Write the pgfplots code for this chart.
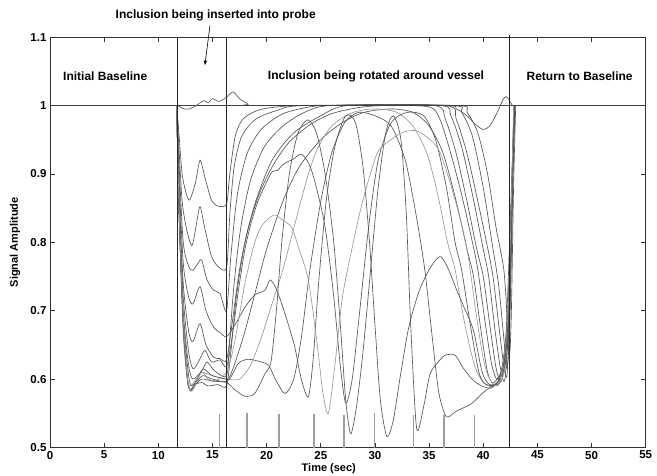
\documentclass[border=0pt]{standalone}
\usepackage{pgfplots}
\pgfplotsset{compat=1.18}
\usepackage{fontspec}
\setmainfont{Liberation Sans}
\usetikzlibrary{arrows.meta}

\definecolor{dk}{gray}{0.33}
\definecolor{lt}{gray}{0.6}
\definecolor{barc}{gray}{0.62}

\pgfplotsset{
  curve/.style={smooth, tension=0.45, color=dk, line width=0.65pt, mark=none},
  lcurve/.style={smooth, tension=0.45, color=lt, line width=0.65pt, mark=none},
}

\begin{document}
\begin{tikzpicture}
\begin{axis}[
  name=ax,
  scale only axis,
  width=595.7pt, height=410.4pt,
  xmin=0, xmax=55, ymin=0.5, ymax=1.1,
  xtick={0,5,10,15,20,25,30,35,40,45,50,55},
  xticklabels={0,5,10,15,20,25,30,35,40,45,50,55},
  ytick={0.5,0.6,0.7,0.8,0.9,1,1.1},
  yticklabels={0.5,0.6,0.7,0.8,0.9,1,1.1},
  /pgf/number format/assume math mode=true,
  tick align=inside,
  major tick length=5pt,
  tick style={black!80, line width=0.6pt},
  axis line style={black!80, line width=0.8pt},
  ticklabel style={font=\bfseries\fontsize{11.5}{13}\selectfont},
  xlabel={Time (sec)},
  ylabel={Signal Amplitude},
  xlabel style={font=\bfseries\fontsize{11}{13}\selectfont, at={(axis description cs:0.468,-0.0504)}, anchor=center},
  ylabel style={font=\bfseries\fontsize{11}{13}\selectfont, at={(axis description cs:-0.0588,0.5)}, anchor=center},
  clip=false,
]

% top curve
\addplot[curve] coordinates {(11.7,1)(12.0,0.998)(12.4,0.995)(12.9,0.995)(13.5,1.0)(14.2,1.007)(14.6,1.004)(15.0,1.01)(15.6,1.006)(16.3,1.012)(16.9,1.02)(17.5,1.01)(18.3,1.002)(19,1)(36,1)(37.5,0.995)(38.5,0.985)(39.3,0.972)(40.0,0.965)(40.6,0.97)(41.3,0.99)(41.8,1.008)(42.1,1.013)(42.4,1.008)(42.7,1)(43,1)};

% plateau curves
\addplot[curve] coordinates {(11.7,1)(11.9,0.96)(12.2,0.9)(12.6,0.87)(12.9,0.862)(13.4,0.885)(13.85,0.92)(14.3,0.895)(14.9,0.862)(15.5,0.853)(16.3,0.856)(16.6,0.9)(17.1,0.955)(17.8,0.98)(19.2,0.993)(21,0.998)(24,1)(37.5,1)(38.5,0.99)(39.5,0.96)(40.4,0.9)(41.2,0.82)(41.9,0.76)(42.25,0.68)(42.45,0.64)(42.6,0.7)(42.8,0.88)(43.0,1)};
\addplot[curve] coordinates {(11.7,1)(11.9,0.94)(12.2,0.86)(12.6,0.82)(13.1,0.795)(13.5,0.825)(13.85,0.852)(14.3,0.82)(14.9,0.78)(15.5,0.765)(16.3,0.763)(16.6,0.84)(17.0,0.91)(17.7,0.955)(19,0.98)(21,0.993)(23.5,1)(37,1)(38,0.99)(39,0.955)(40,0.88)(40.8,0.8)(41.4,0.74)(41.9,0.66)(42.2,0.615)(42.45,0.68)(42.7,0.88)(42.9,1)};
\addplot[curve] coordinates {(11.7,1)(11.9,0.92)(12.3,0.8)(12.8,0.765)(13.2,0.759)(13.6,0.768)(14.0,0.774)(14.5,0.745)(15.1,0.73)(15.7,0.725)(16.3,0.70)(16.7,0.78)(17.3,0.87)(18.2,0.93)(19.5,0.965)(21.5,0.988)(24,0.998)(26,1)(36.5,1)(37.5,0.98)(38.5,0.93)(39.5,0.86)(40.3,0.8)(40.9,0.75)(41.5,0.67)(41.9,0.62)(42.2,0.607)(42.5,0.72)(42.8,0.93)(42.95,1)};
\addplot[curve] coordinates {(11.7,1)(11.9,0.88)(12.3,0.74)(12.8,0.67)(13.2,0.655)(13.85,0.681)(14.4,0.65)(15.1,0.632)(15.7,0.63)(16.3,0.628)(16.8,0.68)(17.5,0.76)(18.3,0.82)(19.3,0.87)(20.5,0.91)(22,0.945)(24,0.972)(26,0.988)(28.5,0.997)(31,1)(35,0.998)(36,0.98)(37,0.93)(38,0.87)(39,0.8)(39.5,0.76)(40.2,0.68)(40.8,0.62)(41.4,0.6)(42.2,0.66)(42.7,0.9)(42.9,1)};
\addplot[curve] coordinates {(11.7,1)(11.9,0.86)(12.3,0.7)(12.8,0.62)(13.2,0.6)(14.0,0.612)(14.5,0.625)(15.2,0.612)(16.3,0.605)(16.6,0.66)(17.0,0.74)(17.6,0.82)(18.5,0.89)(19.8,0.94)(21.5,0.97)(23.5,0.99)(26,1)(36,1)(37,0.985)(38,0.94)(39,0.87)(40,0.79)(40.5,0.75)(41.1,0.67)(41.6,0.615)(42.0,0.6)(42.4,0.7)(42.75,0.92)(42.9,1)};
\addplot[curve] coordinates {(11.7,1)(11.9,0.85)(12.3,0.68)(12.7,0.6)(13.0,0.583)(13.4,0.592)(14.0,0.595)(14.6,0.59)(15.5,0.592)(16.3,0.59)(16.7,0.64)(17.2,0.72)(18.0,0.8)(19,0.86)(20.5,0.92)(22.5,0.96)(25,0.985)(27.5,1)(35.5,1)(36.5,0.98)(37.5,0.93)(38.5,0.86)(39.4,0.79)(40.0,0.75)(40.6,0.68)(41.2,0.615)(41.7,0.598)(42.3,0.68)(42.75,0.92)(42.9,1)};
\addplot[curve] coordinates {(11.7,1)(11.9,0.85)(12.3,0.67)(12.7,0.595)(13.0,0.585)(13.5,0.595)(14.1,0.605)(15,0.6)(16.3,0.597)(17,0.62)(18,0.67)(19,0.73)(20,0.79)(21.5,0.86)(23,0.91)(25,0.95)(27,0.975)(29,0.99)(31.5,0.995)(33.5,0.99)(35,0.97)(36.3,0.93)(37.5,0.86)(38.5,0.79)(39.1,0.75)(39.8,0.67)(40.4,0.61)(41,0.595)(42,0.64)(42.6,0.88)(42.85,1)};
\addplot[lcurve] coordinates {(11.7,1)(11.9,0.86)(12.3,0.68)(12.7,0.6)(13.0,0.59)(13.5,0.6)(14.0,0.61)(15,0.605)(16.3,0.6)(17.5,0.6)(18.5,0.62)(19.5,0.66)(20.5,0.71)(21.5,0.76)(22.5,0.82)(23.5,0.88)(24.5,0.93)(26,0.97)(28,0.99)(30,0.995)(32,0.99)(33.5,0.97)(34.8,0.93)(35.8,0.87)(36.7,0.8)(37.4,0.76)(38.3,0.68)(39.2,0.62)(40.0,0.595)(41,0.59)(42,0.62)(42.6,0.85)(42.85,1)};

% oscillating curves
\addplot[curve] coordinates {(11.7,1)(11.9,0.9)(12.3,0.77)(12.8,0.72)(13.2,0.71)(13.85,0.735)(14.4,0.7)(15.1,0.676)(15.7,0.668)(16.3,0.662)(17.1,0.68)(18.0,0.705)(18.9,0.723)(19.85,0.73)(20.3,0.745)(20.8,0.735)(21.4,0.71)(22.0,0.68)(22.6,0.647)(23.2,0.6)(23.85,0.574)(24.3,0.63)(24.8,0.74)(25.5,0.86)(26.3,0.94)(27.3,0.985)(28.2,0.975)(28.9,0.91)(29.5,0.8)(30.0,0.68)(30.5,0.57)(31.1,0.516)(31.7,0.54)(32.3,0.6)(33.1,0.674)(34.0,0.725)(34.8,0.754)(35.5,0.772)(36.1,0.779)(36.8,0.76)(37.55,0.73)(38.2,0.706)(39.1,0.671)(39.9,0.61)(40.6,0.592)(41.5,0.6)(42.2,0.66)(42.7,0.9)(42.9,1)};
\addplot[curve] coordinates {(11.7,1)(11.9,0.87)(12.3,0.72)(12.8,0.64)(13.2,0.615)(13.7,0.625)(14.3,0.642)(14.9,0.625)(15.7,0.628)(16.3,0.618)(16.8,0.66)(17.4,0.73)(18.0,0.79)(18.6,0.83)(19.2,0.86)(19.9,0.885)(20.5,0.903)(21.0,0.905)(21.4,0.912)(21.85,0.917)(22.5,0.922)(23.2,0.929)(23.9,0.915)(24.5,0.886)(25.4,0.822)(26.2,0.72)(26.8,0.62)(27.3,0.565)(27.9,0.6)(28.6,0.7)(29.4,0.82)(30.3,0.92)(31.5,0.975)(33,0.99)(34.5,0.985)(35.6,0.95)(36.6,0.88)(37.4,0.8)(38.0,0.76)(38.8,0.68)(39.6,0.61)(40.3,0.592)(41.5,0.6)(42.3,0.7)(42.75,0.95)(42.9,1)};
\addplot[curve] coordinates {(11.7,1)(11.9,0.85)(12.3,0.69)(12.8,0.605)(13.1,0.59)(13.6,0.6)(14.15,0.615)(15.0,0.605)(16.3,0.6)(16.6,0.6)(17.4,0.623)(18.3,0.629)(19.5,0.625)(20.2,0.62)(20.8,0.6)(21.7,0.579)(22.5,0.6)(23.2,0.66)(24,0.76)(25,0.86)(26,0.93)(27.2,0.975)(28.5,0.99)(30,0.985)(31.5,0.97)(32.8,0.92)(33.8,0.84)(34.6,0.76)(35.3,0.66)(35.9,0.58)(36.6,0.545)(37.5,0.553)(38.9,0.564)(39.9,0.579)(40.8,0.59)(41.6,0.6)(42.3,0.7)(42.7,0.92)(42.9,1)};
\addplot[curve] coordinates {(11.7,1)(11.9,0.85)(12.3,0.68)(12.7,0.6)(12.9,0.584)(13.3,0.59)(14.0,0.6)(15.0,0.597)(16.3,0.595)(17.1,0.584)(18.0,0.575)(18.9,0.579)(19.85,0.608)(20.4,0.625)(20.9,0.7)(21.4,0.8)(22.1,0.9)(22.9,0.96)(23.8,0.979)(24.6,0.96)(25.4,0.9)(26.2,0.8)(26.8,0.68)(27.3,0.57)(27.76,0.52)(28.3,0.56)(28.9,0.64)(29.6,0.76)(30.3,0.88)(31.0,0.96)(31.7,0.985)(32.4,0.95)(32.9,0.84)(33.3,0.68)(33.85,0.528)(34.5,0.56)(35.1,0.608)(36.0,0.628)(36.5,0.635)(37.4,0.635)(38.2,0.615)(39.1,0.598)(40.0,0.589)(41,0.59)(42.2,0.64)(42.7,0.9)(42.9,1)};
\addplot[lcurve] coordinates {(11.7,1)(11.9,0.86)(12.3,0.69)(12.7,0.6)(13.0,0.582)(13.3,0.587)(14.0,0.61)(14.6,0.6)(15.3,0.598)(16.3,0.61)(17,0.65)(18,0.74)(18.9,0.8)(19.6,0.825)(20.2,0.835)(20.8,0.84)(21.5,0.832)(22.3,0.822)(23,0.79)(23.85,0.745)(24.6,0.66)(25.2,0.58)(25.7,0.55)(26.3,0.62)(27,0.72)(28,0.8)(28.9,0.862)(30.2,0.93)(31.4,0.949)(32.6,0.961)(34,0.962)(35.9,0.935)(37.4,0.862)(38.5,0.79)(39.3,0.7)(40.0,0.63)(40.6,0.6)(41.5,0.595)(42.3,0.7)(42.8,1)};

% baselines
\addplot[lt, line width=0.8pt] coordinates {(0,1)(11.7,1)};
\addplot[lt, line width=1.3pt] coordinates {(43,1)(55,1)};
\addplot[black!75, line width=0.6pt] coordinates {(0,1)(55,1)};

% event markers
\addplot[barc, line width=1.2pt, unbounded coords=jump] coordinates {
  (15.63,0.5)(15.63,0.549)(15.63,nan)
  (18.19,0.5)(18.19,0.550)(18.19,nan)
  (21.14,0.5)(21.14,0.549)(21.14,nan)
  (24.38,0.5)(24.38,0.549)(24.38,nan)
  (27.15,0.5)(27.15,0.548)(27.15,nan)
  (29.94,0.5)(29.94,0.550)(29.94,nan)
  (33.58,0.5)(33.58,0.548)(33.58,nan)
  (36.38,0.5)(36.38,0.548)(36.38,nan)
  (39.18,0.5)(39.18,0.548)
};

% phase boundaries
\addplot[black!85, line width=1.1pt] coordinates {(11.75,0.5)(11.75,1.1)};
\addplot[black!85, line width=1.1pt] coordinates {(16.3,0.5)(16.3,1.1)};
\addplot[black!85, line width=1.1pt] coordinates {(42.4,0.5)(42.4,1.103)};

\node[font=\bfseries\fontsize{12}{14}\selectfont] at (axis cs:5.1,1.043) {Initial Baseline};
\node[font=\bfseries\fontsize{12}{14}\selectfont] at (axis cs:30.1,1.043) {Inclusion being rotated around vessel};
\node[font=\bfseries\fontsize{12}{14}\selectfont] at (axis cs:48.9,1.043) {Return to Baseline};
\node[font=\bfseries\fontsize{12}{14}\selectfont] at (axis cs:15.3,1.131) {Inclusion being inserted into probe};
\draw[-{Stealth[length=5pt,width=3.5pt]}, line width=0.6pt] (axis cs:14.77,1.117) -- (axis cs:14.3,1.059);
\end{axis}
\pgfresetboundingbox
\path[use as bounding box] ([xshift=-50pt,yshift=-28pt]ax.south west) rectangle ([xshift=11.3pt,yshift=37.1pt]ax.north east);
\end{tikzpicture}
\end{document}
